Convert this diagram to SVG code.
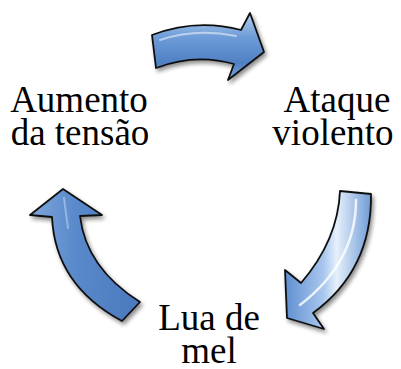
<svg xmlns="http://www.w3.org/2000/svg" width="401" height="369" viewBox="0 0 401 369">
<defs>
<linearGradient id="gTop" x1="0" y1="0" x2="0" y2="1">
<stop offset="0" stop-color="#b4cff0"/>
<stop offset="0.35" stop-color="#6f9dd8"/>
<stop offset="0.75" stop-color="#4f80c4"/>
<stop offset="1" stop-color="#7fa8dc"/>
</linearGradient>
<linearGradient id="gRight" x1="0" y1="0" x2="1" y2="0">
<stop offset="0" stop-color="#5f8fd0"/>
<stop offset="0.45" stop-color="#a9c7ee"/>
<stop offset="0.6" stop-color="#e6f0fb"/>
<stop offset="1" stop-color="#6f9bd6"/>
</linearGradient>
<linearGradient id="gLeft" x1="0" y1="0" x2="1" y2="0">
<stop offset="0" stop-color="#7fa6dc"/>
<stop offset="0.4" stop-color="#5a8acb"/>
<stop offset="1" stop-color="#4a78bc"/>
</linearGradient>
<filter id="sh" x="-20%" y="-20%" width="140%" height="140%">
<feGaussianBlur in="SourceAlpha" stdDeviation="2"/>
<feOffset dx="2" dy="3" result="b"/>
<feComponentTransfer><feFuncA type="linear" slope="0.45"/></feComponentTransfer>
<feMerge><feMergeNode/><feMergeNode in="SourceGraphic"/></feMerge>
</filter>
</defs>
<style>
.arrow{stroke:#111;stroke-width:1.8;stroke-linejoin:round;filter:url(#sh)}
.gloss{fill:none;stroke:#ffffff;stroke-linecap:round}
text{font-family:'Liberation Serif','Times New Roman','DejaVu Serif',serif;font-size:37px;fill:#000;text-anchor:middle}
</style>
<g id="connectors">
<g id="arrow-top">
<path class="arrow" fill="url(#gTop)" d="M152,35 Q196,18 241,30 L250,13 L264,52 L228,80 L234,64 Q195,53 156,68 Z"/>
<path class="gloss" stroke-width="2" stroke-opacity="0.5" d="M160,40 Q196,28 236,36"/>
</g>
<g id="arrow-right">
<path class="arrow" fill="url(#gRight)" d="M340,191 L371,194 Q372,270 313,313 L324,329 L287,318 L285,270 L301,283 Q338,240 340,191 Z"/>
<path class="gloss" stroke-width="2.5" stroke-opacity="0.8" d="M356,200 Q356,262 300,305"/>
</g>
<g id="arrow-left">
<path class="arrow" fill="url(#gLeft)" d="M63,189 L102,215 L80,216 Q86,268 140,302 L122,321 Q55,285 52,217 L30,215 Z"/>
<path class="gloss" stroke-width="2" stroke-opacity="0.35" d="M64,198 Q66,214 68,228"/>
</g>
</g>
<g id="node-aumento">
<text x="79" y="112">Aumento</text>
<text x="80" y="145">da tensão</text>
</g>
<g id="node-ataque">
<text x="337" y="112">Ataque</text>
<text x="333" y="145">violento</text>
</g>
<g id="node-lua">
<text x="209" y="330">Lua de</text>
<text x="209" y="363">mel</text>
</g>
</svg>
